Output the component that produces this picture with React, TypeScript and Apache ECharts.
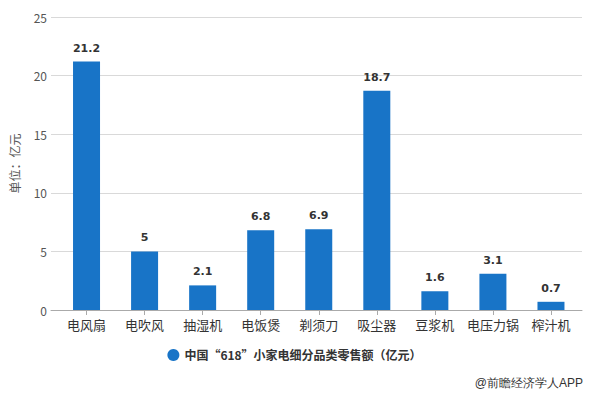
import React, { useEffect, useRef } from "react";
import * as echarts from "echarts";

const categories = ["电风扇", "电吹风", "抽湿机", "电饭煲", "剃须刀", "吸尘器", "豆浆机", "电压力锅", "榨汁机"];
const values = [21.2, 5, 2.1, 6.8, 6.9, 18.7, 1.6, 3.1, 0.7];
const seriesName = "中国“618”小家电细分品类零售额（亿元）";
const yAxisName = "单位：亿元";
const sourceText = "@前瞻经济学人APP";

export default function App() {
  const ref = useRef<HTMLDivElement>(null);
  useEffect(() => {
    const chart = echarts.init(ref.current!, null, { renderer: "svg" });
    const font = "'Microsoft YaHei', 'Noto Sans CJK SC', sans-serif";
    chart.setOption({
      animation: false,
      textStyle: { fontFamily: font },
      grid: [
        { left: 48, right: 7, top: 17, bottom: 84 },
        { left: 57.5, right: 9, top: 17, bottom: 84 },
      ],
      legend: {
        data: [seriesName],
        bottom: 28,
        left: "center",
        icon: "circle",
        itemWidth: 12,
        itemHeight: 12,
        textStyle: { fontSize: 12, fontWeight: "bold", color: "#333", fontFamily: font },
      },
      xAxis: [
        {
          type: "category",
          gridIndex: 0,
          data: categories,
          axisLine: { show: true, lineStyle: { color: "#aaa" } },
          axisTick: { show: false },
          axisLabel: { show: false },
        },
        {
          type: "category",
          gridIndex: 1,
          data: categories,
          axisLine: { show: false },
          axisTick: { show: true, alignWithLabel: true, lineStyle: { color: "#aaa" } },
          axisLabel: { color: "#333", fontSize: 13, margin: 8, interval: 0, fontFamily: font },
        },
      ],
      yAxis: [
        {
          type: "value",
          gridIndex: 0,
          min: 0,
          max: 25,
          interval: 5,
          name: yAxisName,
          nameLocation: "middle",
          nameGap: 31,
          nameTextStyle: { color: "#555", fontSize: 12, fontFamily: font },
          axisLine: { show: false },
          axisTick: { show: false },
          axisLabel: { color: "#555", fontSize: 12, margin: 4 },
          splitLine: { lineStyle: { color: "#d9d9d9" } },
        },
        {
          type: "value",
          gridIndex: 1,
          min: 0,
          max: 25,
          interval: 5,
          show: false,
          splitLine: { show: false },
        },
      ],
      series: [
        {
          name: seriesName,
          type: "bar",
          xAxisIndex: 1,
          yAxisIndex: 1,
          data: values,
          barWidth: 27,
          itemStyle: { color: "#1874c7" },
          label: {
            show: true,
            position: "top",
            distance: 8,
            color: "#333",
            fontSize: 11,
            fontWeight: "bold",
            fontFamily: "Verdana, 'DejaVu Sans', sans-serif",
          },
        },
      ],
      graphic: [
        {
          type: "text",
          right: 6,
          bottom: 5,
          style: { text: sourceText, fontSize: 12, fill: "#333", font: "12px " + font },
        },
      ],
    });
    return () => chart.dispose();
  }, []);
  return <div ref={ref} style={{ width: 589, height: 394, position: "absolute", left: 0, top: 0 }} />;
}
